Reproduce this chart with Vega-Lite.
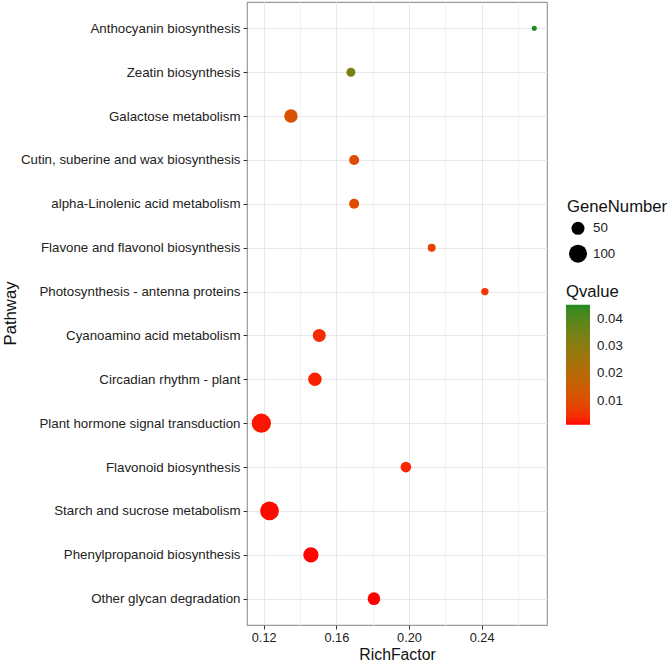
{
  "$schema": "https://vega.github.io/schema/vega-lite/v6.json",
  "autosize": "none",
  "width": 300,
  "height": 623,
  "padding": {"left": 247, "top": 2, "right": 121, "bottom": 37},
  "background": "white",
  "config": {
    "font": "Liberation Sans",
    "view": {"stroke": "#9a9a9a", "strokeWidth": 1.2},
    "axis": {"domain": false}
  },
  "data": {
    "values": [
      {"Pathway": "Anthocyanin biosynthesis", "RichFactor": 0.269, "GeneNumber": 4, "Qvalue": 0.0451},
      {"Pathway": "Zeatin biosynthesis", "RichFactor": 0.168, "GeneNumber": 22, "Qvalue": 0.033},
      {"Pathway": "Galactose metabolism", "RichFactor": 0.135, "GeneNumber": 54, "Qvalue": 0.011},
      {"Pathway": "Cutin, suberine and wax biosynthesis", "RichFactor": 0.1698, "GeneNumber": 28, "Qvalue": 0.0095},
      {"Pathway": "alpha-Linolenic acid metabolism", "RichFactor": 0.1698, "GeneNumber": 28, "Qvalue": 0.0095},
      {"Pathway": "Flavone and flavonol biosynthesis", "RichFactor": 0.2125, "GeneNumber": 16, "Qvalue": 0.007},
      {"Pathway": "Photosynthesis - antenna proteins", "RichFactor": 0.2418, "GeneNumber": 13, "Qvalue": 0.005},
      {"Pathway": "Cyanoamino acid metabolism", "RichFactor": 0.1506, "GeneNumber": 50, "Qvalue": 0.004},
      {"Pathway": "Circadian rhythm - plant", "RichFactor": 0.1482, "GeneNumber": 54, "Qvalue": 0.003},
      {"Pathway": "Plant hormone signal transduction", "RichFactor": 0.1187, "GeneNumber": 115, "Qvalue": 0.002},
      {"Pathway": "Flavonoid biosynthesis", "RichFactor": 0.1983, "GeneNumber": 32, "Qvalue": 0.003},
      {"Pathway": "Starch and sucrose metabolism", "RichFactor": 0.1232, "GeneNumber": 108, "Qvalue": 0.0015},
      {"Pathway": "Phenylpropanoid biosynthesis", "RichFactor": 0.146, "GeneNumber": 71, "Qvalue": 0.0014},
      {"Pathway": "Other glycan degradation", "RichFactor": 0.1807, "GeneNumber": 47, "Qvalue": 0.0012}
    ]
  },
  "mark": {"type": "circle", "opacity": 1},
  "encoding": {
    "x": {
      "field": "RichFactor",
      "type": "quantitative",
      "scale": {"domain": [0.1108, 0.276], "zero": false, "nice": false},
      "axis": {
        "title": "RichFactor",
        "values": [0.12, 0.14, 0.16, 0.18, 0.2, 0.22, 0.24, 0.26],
        "labelExpr": "(round(datum.value*100) % 4 == 0) ? format(datum.value, '.2f') : ''",
        "labelFont": "Liberation Sans",
        "labelFontSize": 12.8,
        "labelColor": "#222222",
        "labelPadding": 2,
        "tickSize": 4,
        "tickColor": "#333333",
        "tickOpacity": {"condition": {"test": "round(datum.value*100) % 4 == 0", "value": 1}, "value": 0},
        "gridColor": {"condition": {"test": "round(datum.value*100) % 4 == 0", "value": "#e8e8e8"}, "value": "#f2f2f2"},
        "gridWidth": 1,
        "titleFont": "Liberation Sans",
        "titleFontSize": 15.8,
        "titleFontWeight": "normal",
        "titleColor": "#111111",
        "titleBaseline": "middle",
        "titleY": 29
      }
    },
    "y": {
      "field": "Pathway",
      "type": "nominal",
      "sort": null,
      "scale": {"type": "point", "padding": 0.6},
      "axis": {
        "title": "Pathway",
        "grid": true,
        "gridColor": "#e8e8e8",
        "gridWidth": 1,
        "labelFont": "Liberation Sans",
        "labelFontSize": 13.3,
        "labelColor": "#222222",
        "labelPadding": 3,
        "labelLimit": 300,
        "tickSize": 4,
        "tickColor": "#333333",
        "titleFont": "Liberation Sans",
        "titleFontSize": 16.7,
        "titleFontWeight": "normal",
        "titleColor": "#111111",
        "titleBaseline": "middle",
        "titleX": -237,
        "titleY": 311
      }
    },
    "size": {
      "field": "GeneNumber",
      "type": "quantitative",
      "scale": {"type": "linear", "domain": [0, 120], "range": [14, 386], "zero": false},
      "legend": {
        "title": "GeneNumber",
        "values": [50, 100],
        "orient": "none",
        "legendX": 320,
        "legendY": 197,
        "titleFont": "Liberation Sans",
        "titleFontSize": 16.7,
        "titleFontWeight": "normal",
        "titleColor": "#111111",
        "titlePadding": 6,
        "labelFont": "Liberation Sans",
        "labelFontSize": 13.3,
        "labelColor": "#222222",
        "labelOffset": 6,
        "symbolType": "circle",
        "symbolFillColor": "black",
        "symbolStrokeWidth": 0,
        "symbolOpacity": 1,
        "symbolOffset": 2,
        "rowPadding": 9
      }
    },
    "color": {
      "field": "Qvalue",
      "type": "quantitative",
      "scale": {"domain": [0.0012, 0.0451], "range": ["#FF0000", "#228B22"], "interpolate": "lab"},
      "legend": {
        "title": "Qvalue",
        "values": [0.01, 0.02, 0.03, 0.04],
        "format": ".2f",
        "orient": "none",
        "legendX": 319,
        "legendY": 282,
        "direction": "vertical",
        "gradientLength": 120,
        "gradientThickness": 24,
        "gradientStrokeWidth": 0,
        "titleFont": "Liberation Sans",
        "titleFontSize": 16.7,
        "titleFontWeight": "normal",
        "titleColor": "#111111",
        "titlePadding": 4,
        "labelFont": "Liberation Sans",
        "labelFontSize": 13.3,
        "labelColor": "#222222",
        "labelOffset": 7,
        "tickCount": 4
      }
    }
  }
}
